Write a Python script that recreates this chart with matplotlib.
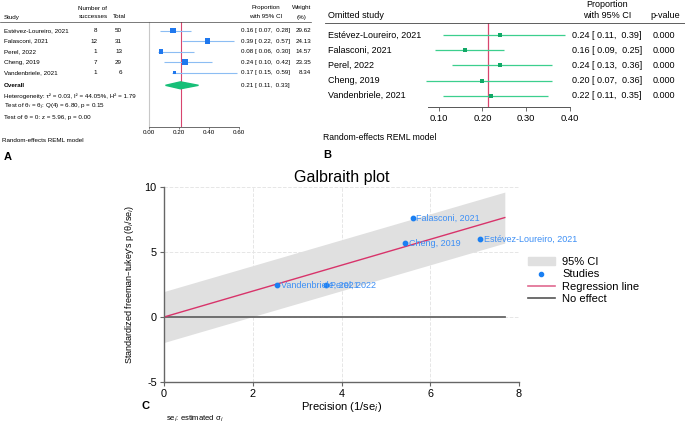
import numpy as np
import matplotlib
matplotlib.use('Agg')
import matplotlib.pyplot as plt
from matplotlib import transforms
from matplotlib.lines import Line2D
from matplotlib.patches import Polygon, Patch

plt.rcParams['font.family'] = ['Liberation Sans', 'DejaVu Sans']
plt.rcParams['axes.unicode_minus'] = False

W, H = 685, 423

# ---- data: panel A (forest plot)
studies = ['Estévez-Loureiro, 2021', 'Falasconi, 2021', 'Perel, 2022',
           'Cheng, 2019', 'Vandenbriele, 2021']
successes = [8, 12, 1, 7, 1]
totals = [50, 31, 13, 29, 6]
prop = [0.16, 0.39, 0.08, 0.24, 0.17]
prop_lo = [0.07, 0.22, 0.06, 0.10, 0.15]
prop_hi = [0.28, 0.57, 0.30, 0.42, 0.59]
weights = [29.62, 24.13, 14.57, 23.35, 8.34]
overall = [0.21, 0.11, 0.33]
a_ticks = [0.0, 0.2, 0.4, 0.6]

# ---- data: panel B (leave-one-out)
loo_est = [0.24, 0.16, 0.24, 0.20, 0.22]
loo_lo = [0.11, 0.09, 0.13, 0.07, 0.11]
loo_hi = [0.39, 0.25, 0.36, 0.36, 0.35]
loo_p = ['0.000', '0.000', '0.000', '0.000', '0.000']
loo_ref = 0.213
b_ticks = [0.1, 0.2, 0.3, 0.4]

# ---- data: panel C (Galbraith)
precision = [7.12, 5.61, 3.66, 5.43, 2.55]
std_effect = [5.98, 7.59, 2.44, 5.69, 2.44]
reg_slope = 0.996
prec_max = 7.68


def fx(px):
    return px / W


def fy(py):
    return 1 - py / H


fig = plt.figure(figsize=(W / 100, H / 100), dpi=100)
fig.patch.set_facecolor('white')

# =================== Panel A ===================
fsA = 4.5
ax_a = fig.add_axes([fx(149), fy(127), 90 / W, 105 / H])
ax_a.set_xlim(0, 0.6)
ax_a.set_ylim(9.19, -0.81)
rows = np.arange(len(studies))
ov_row = 5.22
for s in ['top', 'right', 'left']:
    ax_a.spines[s].set_visible(False)
ax_a.spines['bottom'].set_color('#555555')
ax_a.spines['bottom'].set_linewidth(0.6)
ax_a.set_yticks([])
ax_a.set_xticks(a_ticks)
ax_a.set_xticklabels(['%.2f' % t for t in a_ticks])
ax_a.tick_params(axis='x', labelsize=fsA, length=1.5, pad=0.5, width=0.5, color='#555555')

ax_a.axvline(0, color='#c8c8c8', lw=0.8, clip_on=False)
ax_a.axvline(overall[0], color='#d8456e', lw=0.8)
ax_a.hlines(rows, prop_lo, prop_hi, color='#8cbdf3', lw=0.8)
side = 1.1 * np.sqrt(weights) * 0.72
ax_a.scatter(prop, rows, marker='s', s=side ** 2, color='#1f78ee', zorder=3, linewidths=0)
dh = 0.33
ax_a.add_patch(Polygon([(overall[1], ov_row), (overall[0], ov_row - dh),
                        (overall[2], ov_row), (overall[0], ov_row + dh)],
                       closed=True, color='#17bf78', zorder=3))

tA = transforms.blended_transform_factory(fig.transFigure, ax_a.transData)
for i, name in enumerate(studies):
    fig.text(fx(4), rows[i], name, transform=tA, fontsize=fsA, va='center')
    fig.text(fx(97), rows[i], str(successes[i]), transform=tA, fontsize=fsA, va='center', ha='right')
    fig.text(fx(122), rows[i], str(totals[i]), transform=tA, fontsize=fsA, va='center', ha='right')
    fig.text(fx(241), rows[i], '%.2f [ %.2f,  %.2f]' % (prop[i], prop_lo[i], prop_hi[i]),
             transform=tA, fontsize=fsA, va='center')
    fig.text(fx(311), rows[i], '%.2f' % weights[i], transform=tA, fontsize=fsA, va='center', ha='right')
fig.text(fx(4), ov_row, 'Overall', transform=tA, fontsize=fsA, va='center', fontweight='bold')
fig.text(fx(241), ov_row, '%.2f [ %.2f,  %.2f]' % tuple(overall), transform=tA, fontsize=fsA, va='center')
fig.text(fx(4), 6.24, 'Heterogeneity: τ² = 0.03, I² = 44.05%, H² = 1.79', transform=tA, fontsize=fsA, va='center')
fig.text(fx(4), 7.29, r'Test of θ$_i$ = θ$_j$: Q(4) = 6.80, p = 0.15', transform=tA, fontsize=fsA, va='center')
fig.text(fx(4), 8.24, 'Test of θ = 0: z = 5.96, p = 0.00', transform=tA, fontsize=fsA, va='center')

# headers A
fig.text(fx(4), fy(17), 'Study', fontsize=fsA, va='center')
fig.text(fx(93), fy(8), 'Number of', fontsize=fsA, va='center', ha='center')
fig.text(fx(93), fy(17), 'successes', fontsize=fsA, va='center', ha='center')
fig.text(fx(113), fy(17), 'Total', fontsize=fsA, va='center')
fig.text(fx(266), fy(8), 'Proportion', fontsize=fsA, va='center', ha='center')
fig.text(fx(266), fy(17), 'with 95% CI', fontsize=fsA, va='center', ha='center')
fig.text(fx(302), fy(8), 'Weight', fontsize=fsA, va='center', ha='center')
fig.text(fx(302), fy(17), '(%)', fontsize=fsA, va='center', ha='center')
fig.add_artist(Line2D([fx(0), fx(311)], [fy(22), fy(22)], color='#444444', lw=0.5))
fig.text(fx(2), fy(140.7), 'Random-effects REML model', fontsize=fsA, va='center')
fig.text(fx(4), fy(156.7), 'A', fontsize=8, va='center', fontweight='bold')

# =================== Panel B ===================
fsB = 6.5
ax_b = fig.add_axes([fx(428), fy(107), (569.5 - 428) / W, (107 - 23) / H])
ax_b.set_xlim(0.075, 0.40)
ax_b.set_ylim(4.74, -0.79)
for s in ['top', 'right', 'left']:
    ax_b.spines[s].set_visible(False)
ax_b.spines['bottom'].set_color('#555555')
ax_b.spines['bottom'].set_linewidth(0.7)
ax_b.set_yticks([])
ax_b.set_xticks(b_ticks)
ax_b.set_xticklabels(['%.2f' % t for t in b_ticks])
ax_b.tick_params(axis='x', labelsize=6.8, length=3, pad=2.2, width=0.6, color='#555555')
ax_b.axvline(loo_ref, color='#d8456e', lw=0.9)
ax_b.hlines(rows, loo_lo, loo_hi, color='#3ccf8e', lw=0.9, clip_on=False)
ax_b.scatter(loo_est, rows, marker='s', s=5, color='#12a866', zorder=3, linewidths=0)

tB = transforms.blended_transform_factory(fig.transFigure, ax_b.transData)
for i, name in enumerate(studies):
    fig.text(fx(328), rows[i], name, transform=tB, fontsize=fsB, va='center')
    fig.text(fx(572), rows[i], '%.2f [ %.2f,  %.2f]' % (loo_est[i], loo_lo[i], loo_hi[i]),
             transform=tB, fontsize=fsB, va='center')
    fig.text(fx(664), rows[i], loo_p[i], transform=tB, fontsize=fsB, va='center', ha='center')
fig.text(fx(328), fy(16), 'Omitted study', fontsize=fsB, va='center')
fig.text(fx(607), fy(4.5), 'Proportion', fontsize=fsB, va='center', ha='center')
fig.text(fx(607), fy(16), 'with 95% CI', fontsize=fsB, va='center', ha='center')
fig.text(fx(665), fy(16), 'p-value', fontsize=fsB, va='center', ha='center')
fig.add_artist(Line2D([fx(325), fx(685)], [fy(23), fy(23)], color='#444444', lw=0.6))
fig.text(fx(323), fy(137), 'Random-effects REML model', fontsize=6.2, va='center')
fig.text(fx(323), fy(155), 'B', fontsize=8, va='center', fontweight='bold')

# =================== Panel C ===================
ax_c = fig.add_axes([fx(164), fy(382), (519 - 164) / W, (382 - 187) / H])
ax_c.set_xlim(0, 8)
ax_c.set_ylim(-5, 10)
ax_c.set_xticks([0, 2, 4, 6, 8])
ax_c.set_yticks([-5, 0, 5, 10])
ax_c.grid(True, ls='--', color='#e6e6e6', lw=0.7)
ax_c.set_axisbelow(True)
for s in ['top', 'right']:
    ax_c.spines[s].set_visible(False)
for s in ['left', 'bottom']:
    ax_c.spines[s].set_color('#666666')
    ax_c.spines[s].set_linewidth(1.0)
ax_c.tick_params(labelsize=7.8, length=3, pad=2.2, color='#666666')

xb = np.array([0, prec_max])
ax_c.fill_between(xb, reg_slope * xb - 1.96, reg_slope * xb + 1.96,
                  color='#e0e0e0', lw=0)
ax_c.plot([0, prec_max], [0, 0], color='#666666', lw=1.3)
ax_c.plot(xb, reg_slope * xb, color='#d8336a', lw=1.0)
ax_c.scatter(precision, std_effect, s=10, color='#1a7ff2', zorder=4)
for i, name in enumerate(studies):
    ax_c.text(precision[i] + 0.08, std_effect[i], name, color='#3d8ff5',
              fontsize=6.5, va='center', zorder=5)

handles = [Patch(color='#e0e0e0'),
           Line2D([], [], ls='none', marker='o', ms=3, color='#1a7ff2'),
           Line2D([], [], color='#e06a90', lw=1.2),
           Line2D([], [], color='#555555', lw=1.2)]
labels = ['95% CI', 'Studies', 'Regression line', 'No effect']
fig.legend(handles, labels, loc='upper left', bbox_to_anchor=(fx(528), fy(257)),
           bbox_transform=fig.transFigure, frameon=False, fontsize=8,
           borderpad=0, borderaxespad=0, handlelength=2.4, handletextpad=0.7,
           labelspacing=0.22)

fig.text(fx(341.7), fy(177.3), 'Galbraith plot', fontsize=11.5, ha='center', va='center')
fig.text(fx(341.7), fy(407), r'Precision (1/se$_i$)', fontsize=8, ha='center', va='center')
fig.text(fx(130), fy(284.5), r"Standardized freeman–tukey's p (θ$_i$/se$_i$)",
         fontsize=6.5, rotation=90, ha='center', va='center')
fig.text(fx(142), fy(406), 'C', fontsize=8, fontweight='bold', va='center')
fig.text(fx(166), fy(418.5), r'se$_i$: estimated σ$_i$', fontsize=5.5, va='center')

fig.savefig('out.png', dpi=100)
